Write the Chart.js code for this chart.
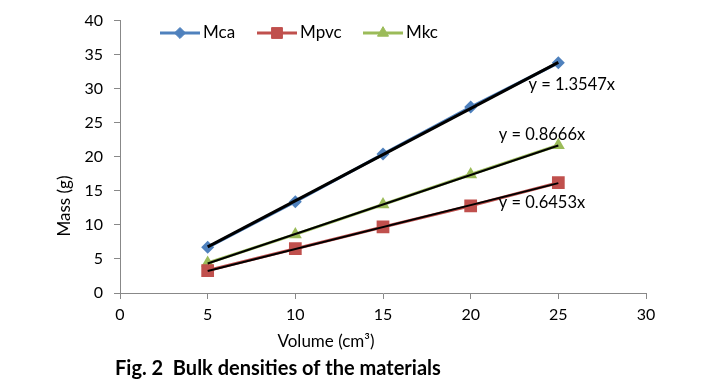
<!DOCTYPE html>
<html>
<head>
<meta charset="utf-8">
<script src="https://cdn.jsdelivr.net/npm/chart.js@4.4.0/dist/chart.umd.min.js"></script>
<style>
  body { margin: 0; background: #fff; }
  #wrap { width: 714px; height: 389px; }
</style>
</head>
<body>
<div id="wrap"><canvas id="densityChart"></canvas></div>
<script>
// values
const volumes = [5, 10, 15, 20, 25];
const massCa = [6.7, 13.4, 20.4, 27.3, 33.8];
const massPvc = [3.3, 6.5, 9.7, 12.8, 16.2];
const massKc = [4.4, 8.6, 13.0, 17.4, 21.7];
const seriesNames = ['Mca', 'Mpvc', 'Mkc'];
const slopes = [1.3547, 0.6453, 0.8666];
const trendRange = [5, 25];
const xTicks = [0, 5, 10, 15, 20, 25, 30];
const yTicks = [0, 5, 10, 15, 20, 25, 30, 35, 40];

const colors = ['#4F81BD', '#C0504D', '#9BBB59'];
const styles = ['rectRot', 'rect', 'triangle'];
const radii = [6.5, 9, 7.5];
const FONT = 'Lato, "Open Sans", sans-serif';

function toPoints(ys) {
  return volumes.map((v, i) => ({ x: v, y: ys[i] }));
}
function trendLine(slope) {
  return trendRange.map(v => ({ x: v, y: slope * v }));
}

// legend, equation labels, axis titles and caption
const extras = {
  id: 'extras',
  afterDraw(chart) {
    const ctx = chart.ctx;
    const xs = chart.scales.x, ys = chart.scales.y;
    ctx.save();

    // legend: line + marker like the spreadsheet one
    const legendX = [160, 257, 363];
    const legendY = 33;
    seriesNames.forEach((name, i) => {
      const x0 = legendX[i];
      ctx.strokeStyle = colors[i];
      ctx.fillStyle = colors[i];
      ctx.lineWidth = 3;
      ctx.beginPath();
      ctx.moveTo(x0, legendY);
      ctx.lineTo(x0 + 40, legendY);
      ctx.stroke();
      ctx.lineWidth = 1;
      Chart.helpers.drawPoint(ctx, {
        pointStyle: styles[i], radius: radii[i] * 0.85, borderWidth: 1, rotation: 0
      }, x0 + 20, legendY);
      ctx.fillStyle = '#000';
      ctx.font = '17px ' + FONT;
      ctx.textAlign = 'left';
      ctx.textBaseline = 'middle';
      ctx.fillText(name, x0 + 43, legendY);
    });

    // trend equations
    ctx.font = '16.5px ' + FONT;
    ctx.fillStyle = '#000';
    ctx.textAlign = 'left';
    ctx.textBaseline = 'middle';
    const labelPos = [[23.3, 30.6], [21.6, 13.2], [21.6, 23.3]];
    slopes.forEach((s, i) => {
      ctx.fillText('y = ' + s.toFixed(4) + 'x',
        xs.getPixelForValue(labelPos[i][0]), ys.getPixelForValue(labelPos[i][1]));
    });

    // axis titles (offset like the original)
    ctx.font = '17px ' + FONT;
    ctx.textAlign = 'center';
    ctx.fillText('Volume (cm³)', 326, 342);
    ctx.save();
    ctx.translate(65, 206);
    ctx.rotate(-Math.PI / 2);
    ctx.fillText('Mass (g)', 0, 0);
    ctx.restore();

    // caption
    ctx.font = 'bold 20px ' + FONT;
    ctx.textAlign = 'left';
    ctx.fillText('Fig. 2  Bulk densities of the materials', 115, 369);
    ctx.restore();
  }
};

const seriesData = [massCa, massPvc, massKc];
const datasets = [];
slopes.forEach((s, i) => {
  datasets.push({
    label: seriesNames[i] + ' trend',
    data: trendLine(s),
    borderColor: '#000',
    borderWidth: i === 0 ? 3 : 2,
    pointRadius: 0,
    showLine: true,
    order: 0
  });
});
seriesData.forEach((vals, i) => {
  const c = colors[i];
  datasets.push({
    label: seriesNames[i],
    data: toPoints(vals),
    borderColor: c,
    backgroundColor: c,
    borderWidth: 3,
    pointStyle: styles[i],
    pointRadius: radii[i],
    pointBorderWidth: 0,
    showLine: true,
    order: 1
  });
});

new Chart(document.getElementById('densityChart'), {
  type: 'scatter',
  data: { datasets: datasets },
  options: {
    responsive: true,
    maintainAspectRatio: false,
    animation: false,
    layout: { padding: { left: 0, right: 68, top: 20, bottom: 0 } },
    plugins: {
      legend: { display: false },
      tooltip: { enabled: false }
    },
    scales: {
      x: {
        type: 'linear',
        min: 0, max: 30,
        afterBuildTicks: axis => { axis.ticks = xTicks.map(v => ({ value: v })); },
        afterFit: axis => { axis.height = 96; },
        grid: { drawOnChartArea: false, drawTicks: true, tickLength: 6, color: '#888' },
        border: { display: true, color: '#888', width: 1 },
        ticks: { color: '#000', font: { family: FONT, size: 16 }, padding: 6 }
      },
      y: {
        min: 0, max: 40,
        afterBuildTicks: axis => { axis.ticks = yTicks.map(v => ({ value: v })); },
        afterFit: axis => { axis.width = 120; },
        grid: { drawOnChartArea: false, drawTicks: true, tickLength: 6, color: '#888' },
        border: { display: true, color: '#888', width: 1 },
        ticks: { color: '#000', font: { family: FONT, size: 16 }, padding: 11 }
      }
    }
  },
  plugins: [extras]
});
</script>
</body>
</html>
